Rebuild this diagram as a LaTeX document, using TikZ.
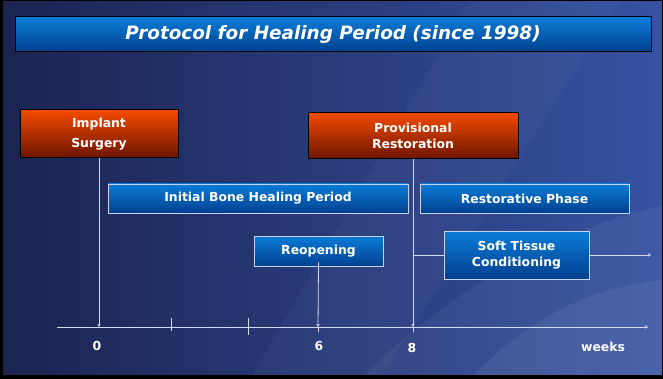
\documentclass[tikz,border=0pt]{standalone}
\usepackage{fontspec}
\setsansfont{DejaVu Sans}
\usetikzlibrary{arrows.meta}
\definecolor{bgdark}{HTML}{1B2451}
\definecolor{bglight}{HTML}{3652A2}
\definecolor{blueA}{HTML}{0A7CD8}
\definecolor{blueB}{HTML}{02408F}
\definecolor{redA}{HTML}{F44A00}
\definecolor{redB}{HTML}{6C1400}
\definecolor{boxline}{HTML}{C6D3EA}
\definecolor{lineclr}{HTML}{D4DCEC}

\begin{document}
\begin{tikzpicture}[x=1pt, y=-1pt,
    every node/.style={font=\sffamily\bfseries\fontsize{12.4}{16}\selectfont, text=white, align=center},
    >={Stealth[length=3pt, width=3.5pt]},
    redbox/.style={draw=black, line width=1pt, top color=redA, bottom color=redB, inner sep=0pt},
    bluebox/.style={draw=boxline, line width=0.9pt, top color=blueA, bottom color=blueB, inner sep=0pt},
    timeline/.style={draw=lineclr, line width=0.8pt}]
	\useasboundingbox (0,0) rectangle (663,379);
	% background
	\shade[left color=bgdark, right color=bglight] (0,0) rectangle (663,379);
	\fill[white, opacity=0.03] (470,0) -- (620,0) -- (380,379) -- (250,379) -- cycle;
	\fill[white, opacity=0.05] (360,379) .. controls (470,270) and (580,225) .. (663,205) -- (663,379) -- cycle;
	\fill[white, opacity=0.06] (470,379) .. controls (540,305) and (610,285) .. (663,280) -- (663,379) -- cycle;
	\fill[black] (0,0) rectangle (3,379);
	\fill[black] (0,375) rectangle (663,379);
	\draw[black, line width=1pt] (0,0.5) -- (663,0.5);
	\draw[black, line width=1pt] (662.5,0) -- (662.5,379);

	% title
	\node[draw=black, line width=1pt, top color=blueA, bottom color=blueB, minimum width=636, minimum height=35, inner sep=0pt,
	      font=\sffamily\bfseries\itshape\fontsize{18.4}{22}\selectfont] (title) at (333,34.5) {Protocol for Healing Period (since 1998)};

	% events and phases
	\node[redbox, minimum width=158, minimum height=48, font=\sffamily\bfseries\fontsize{12.4}{20}\selectfont] (implant) at (99,134) {Implant\\Surgery};
	\node[redbox, minimum width=210, minimum height=46] (provis) at (413,136) {Provisional\\Restoration};
	\node[bluebox, minimum width=300, minimum height=29] (healing) at (258,198.5) {Initial Bone Healing Period};
	\node[bluebox, minimum width=209, minimum height=29] (restphase) at (524.5,198.5) {Restorative Phase};
	\node[bluebox, minimum width=129, minimum height=30] (reopen) at (318.5,251) {Reopening};
	\node[bluebox, minimum width=145, minimum height=48] (soft) at (516.5,255) {Soft Tissue\\Conditioning};

	% time axis
	\coordinate (axstart) at (57,327);
	\coordinate (axend) at (648,327);
	\coordinate (wk0) at (99,327);
	\coordinate (wk6) at (318,327);
	\coordinate (wk8) at (413,327);
	\draw[timeline, ->] (axstart) -- (axend);
	\draw[timeline] (171,318) -- (171,331);
	\draw[timeline] (248,318) -- (248,335);
	\draw[timeline] (wk6) -- ++(0,5);
	\draw[timeline] (wk8) -- ++(0,5);
	\draw[timeline, ->] (implant.south) -- (wk0);
	\draw[timeline, ->] ([yshift=4]reopen.south) -- (wk6);
	\draw[timeline, ->] (provis.south) -- (wk8);
	\draw[timeline] (provis.south |- soft.west) -- (soft.west);
	\coordinate (softend) at (651,255);
	\draw[timeline, ->] (soft.east) -- (softend);

	\node (lbl0) at (97,346) {0};
	\node (lbl6) at (319,346) {6};
	\node (lbl8) at (412,348) {8};
	\node (lblweeks) at (603,347) {weeks};
\end{tikzpicture}
\end{document}
